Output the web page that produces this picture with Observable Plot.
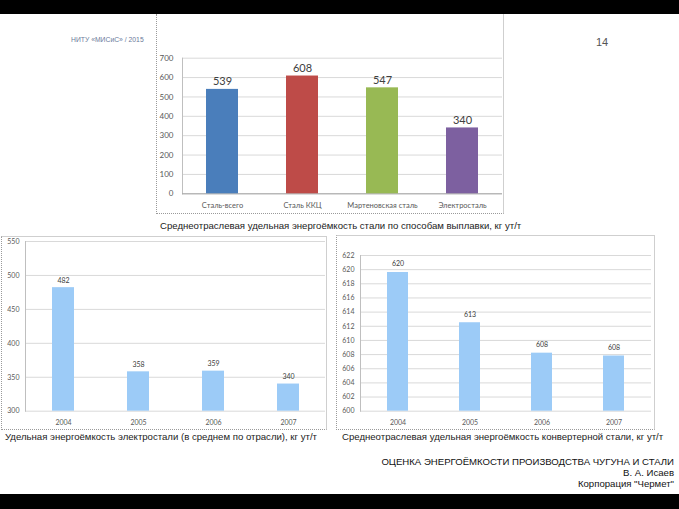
<!DOCTYPE html>
<html>
<head>
<meta charset="utf-8">
<script src="https://cdn.jsdelivr.net/npm/d3@7"></script>
<script src="https://cdn.jsdelivr.net/npm/@observablehq/plot@0.6"></script>
<style>
  html, body { margin: 0; padding: 0; background: #fff; overflow: hidden; }
  #page { position: relative; width: 679px; height: 509px; overflow: hidden; background: #fff; font-family: "Liberation Sans", Arial, sans-serif; }
  .abs { position: absolute; white-space: nowrap; }
  .bar { position: absolute; left: 0; width: 679px; background: #000; }
  .frame { position: absolute; box-sizing: border-box; }
  .frame svg { display: block; }
  .cap { font-size: 9.6px; color: #222; }
</style>
</head>
<body>
<div id="page">
  <div class="abs" style="left:71px; top:36px; font-size:6.8px; color:#6a7a9a;">НИТУ «МИСиС» / 2015</div>
  <div class="abs" style="left:596px; top:36px; font-size:11px; color:#555;">14</div>

  <div id="f1" class="frame" style="left:156px; top:14px; width:348px; height:200px; border-left:1px dotted #9a9a9a; border-bottom:1px dotted #9a9a9a; border-right:1px solid #cfcfcf;"></div>
  <div class="abs cap" style="left:160px; top:220px;">Среднеотраслевая удельная энергоёмкость стали по способам выплавки, кг ут/т</div>

  <div id="f2" class="frame" style="left:1px; top:236px; width:326px; height:194px; border-left:1px dotted #9a9a9a; border-bottom:1px dotted #9a9a9a; border-right:1px solid #cfcfcf; border-top:1px solid #cfcfcf;"></div>
  <div class="abs cap" style="left:5px; top:431px;">Удельная энергоёмкость электростали (в среднем по отрасли), кг ут/т</div>

  <div id="f3" class="frame" style="left:336px; top:235px; width:319px; height:195px; border-left:1px dotted #9a9a9a; border-bottom:1px dotted #9a9a9a; border-right:1px solid #cfcfcf; border-top:1px solid #cfcfcf;"></div>
  <div class="abs cap" style="left:342px; top:431px;">Среднеотраслевая удельная энергоёмкость конвертерной стали, кг ут/т</div>

  <div class="abs" style="right:5px; top:456px; text-align:right; font-size:9.6px; line-height:11px; color:#111;">ОЦЕНКА ЭНЕРГОЁМКОСТИ ПРОИЗВОДСТВА ЧУГУНА И СТАЛИ<br>В. А. Исаев<br>Корпорация "Чермет"</div>

  <div class="bar" style="top:0; height:14px;"></div>
  <div class="bar" style="top:494px; height:15px;"></div>
</div>
<script>
// ---- Data ----
const topCategories = ["Сталь-всего", "Сталь ККЦ", "Мартеновская сталь", "Электросталь"];
const topValues = [539, 608, 547, 340];
const topColors = ["#4a7ebb", "#be4b48", "#98b954", "#7d60a0"];
const topTicks = [0, 100, 200, 300, 400, 500, 600, 700];

const years = ["2004", "2005", "2006", "2007"];
const electroValues = [482, 358, 359, 340];
const electroTicks = [300, 350, 400, 450, 500, 550];

const converterValues = [619.6, 612.5, 608.2, 607.8];
const converterLabels = [620, 613, 608, 608];
const converterTicks = [600, 602, 604, 606, 608, 610, 612, 614, 616, 618, 620, 622];

const barBlue = "#9ccbf7";
const gridColor = "#d9d9d9";
const textColor = "#595959";
const font = "Lato, 'Open Sans', sans-serif";

// ---- Top chart ----
const topData = topCategories.map((c, i) => ({cat: c, value: topValues[i], color: topColors[i]}));
const chart1 = Plot.plot({
  width: 346, height: 199,
  marginLeft: 25, marginRight: 1, marginTop: 43.7, marginBottom: 19.7,
  style: {fontFamily: font, background: "transparent", color: textColor},
  x: {domain: topCategories, paddingInner: 0.6, paddingOuter: 0.3, label: null, axis: null},
  y: {domain: [0, 700], label: null, axis: null},
  marks: [
    Plot.gridY(topTicks, {stroke: gridColor, strokeOpacity: 1}),
    Plot.frame({anchor: "left", stroke: "#bfbfbf"}),
    Plot.ruleY([0], {stroke: "#a6a6a6"}),
    Plot.barY(topData, {x: "cat", y: "value", fill: "color"}),
    Plot.text(topData, {x: "cat", y: "value", text: d => String(d.value), dy: -4, lineAnchor: "bottom", fontSize: 11, fill: "#404040"}),
    Plot.axisY(topTicks, {tickSize: 0, tickPadding: 9, fontSize: 8, fill: textColor}),
    Plot.axisX({tickSize: 0, tickPadding: 9, fontSize: 7.5, fill: textColor})
  ]
});
document.getElementById("f1").appendChild(chart1);

// ---- Bottom-left chart ----
const elData = years.map((y, i) => ({year: y, value: electroValues[i]}));
const chart2 = Plot.plot({
  width: 324, height: 192,
  marginLeft: 23, marginRight: 1, marginTop: 4, marginBottom: 18.3,
  style: {fontFamily: font, background: "transparent", color: textColor},
  x: {domain: years, paddingInner: 0.71, paddingOuter: 0.355, label: null, axis: null},
  y: {domain: [300, 550], label: null, axis: null},
  marks: [
    Plot.gridY(electroTicks, {stroke: gridColor, strokeOpacity: 1}),
    Plot.frame({anchor: "left", stroke: "#bfbfbf"}),
    Plot.barY(elData, {x: "year", y1: electroTicks[0], y2: "value", fill: barBlue}),
    Plot.text(elData, {x: "year", y: "value", text: d => String(d.value), dy: -5, lineAnchor: "bottom", fontSize: 7, fill: "#404040"}),
    Plot.axisY(electroTicks, {tickSize: 0, tickPadding: 6, fontSize: 7, fill: textColor}),
    Plot.axisX({tickSize: 0, tickPadding: 9, fontSize: 7, fill: textColor})
  ]
});
document.getElementById("f2").appendChild(chart2);

// ---- Bottom-right chart ----
const cvData = years.map((y, i) => ({year: y, value: converterValues[i], label: converterLabels[i]}));
const chart3 = Plot.plot({
  width: 317, height: 193,
  marginLeft: 23, marginRight: 3, marginTop: 19, marginBottom: 18.3,
  style: {fontFamily: font, background: "transparent", color: textColor},
  x: {domain: years, paddingInner: 0.71, paddingOuter: 0.355, label: null, axis: null},
  y: {domain: [converterTicks[0], converterTicks[converterTicks.length - 1]], label: null, axis: null},
  marks: [
    Plot.gridY(converterTicks, {stroke: gridColor, strokeOpacity: 1}),
    Plot.frame({anchor: "left", stroke: "#bfbfbf"}),
    Plot.barY(cvData, {x: "year", y1: converterTicks[0], y2: "value", fill: barBlue}),
    Plot.text(cvData, {x: "year", y: "value", text: d => String(d.label), dy: -6, lineAnchor: "bottom", fontSize: 7, fill: "#404040"}),
    Plot.axisY(converterTicks, {tickSize: 0, tickPadding: 6, fontSize: 7, fill: textColor}),
    Plot.axisX({tickSize: 0, tickPadding: 9, fontSize: 7, fill: textColor})
  ]
});
document.getElementById("f3").appendChild(chart3);
</script>
</body>
</html>
